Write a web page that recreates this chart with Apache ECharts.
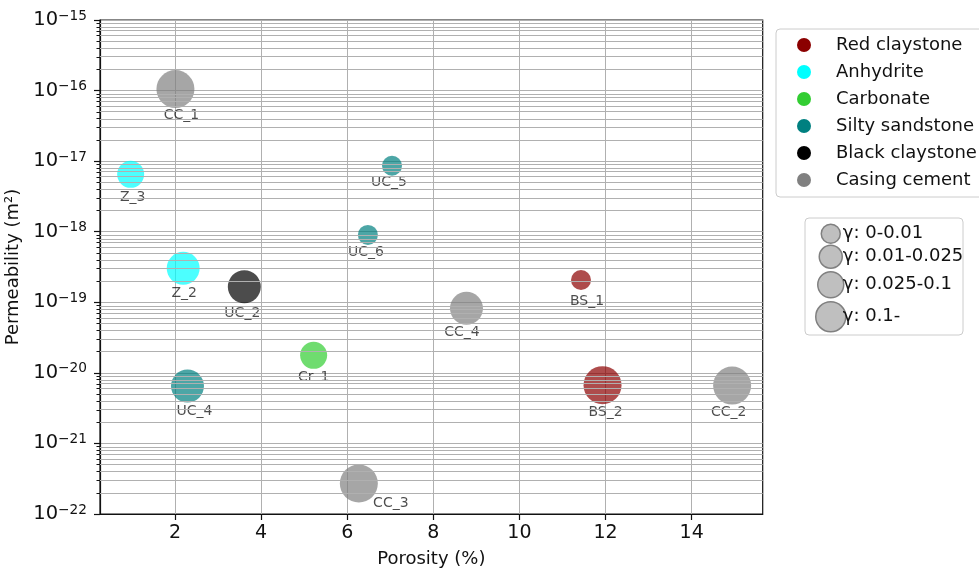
<!DOCTYPE html>
<html>
<head>
<meta charset="utf-8">
<script src="https://cdn.jsdelivr.net/npm/echarts@6/dist/echarts.min.js"></script>
<style>
html, body { margin: 0; padding: 0; background: #fff; }
#chart { width: 979px; height: 569px; }
</style>
</head>
<body>
<div id="chart"></div>
<script>
// Rock types and their colours
const rockTypes = ['Red claystone', 'Anhydrite', 'Carbonate', 'Silty sandstone', 'Black claystone', 'Casing cement'];
const rockColors = ['#8b0000', '#00ffff', '#32cd32', '#008080', '#000000', '#808080'];

// Samples: porosity (%), permeability (m²), gamma class
const sampleNames = ['BS_1', 'BS_2', 'Z_2', 'Z_3', 'Cr_1', 'UC_4', 'UC_5', 'UC_6', 'UC_2', 'CC_1', 'CC_2', 'CC_3', 'CC_4'];
const sampleRock = [0, 0, 1, 1, 2, 3, 3, 3, 4, 5, 5, 5, 5];
const porosity = [11.43, 11.93, 2.19, 0.97, 5.22, 2.29, 7.04, 6.48, 3.61, 2.01, 14.94, 6.27, 8.77];
const permeability = [2.07e-19, 6.7e-21, 3.03e-19, 6.5e-18, 1.77e-20, 6.5e-21, 8.6e-18, 9.0e-19, 1.66e-19, 1.05e-16, 6.6e-21, 2.7e-22, 8.2e-20];
const gammaClass = [0, 3, 2, 1, 1, 2, 0, 0, 2, 3, 3, 3, 2];
const gammaLabels = ['γ: 0-0.01', 'γ: 0.01-0.025', 'γ: 0.025-0.1', 'γ: 0.1-'];

// Axis ranges and ticks (y decades are powers of ten)
const yDecades = [-22, -21, -20, -19, -18, -17, -16, -15];
const xTicks = [2, 4, 6, 8, 10, 12, 14];
const xRange = [0.258, 15.65];

// Layout / style settings
const FONT = 'DejaVu Sans';
const bubbleSizes = [20, 27, 33, 38];
const keySizes = [19, 23, 26, 30];
const keyRowCenters = [233, 256, 284, 316];
const labelOffsets = [[6, 21], [3, 27.5], [1, 25], [2, 23.5], [0, 22.5], [7, 25.5], [-3, 16.5], [-2, 17.5], [-2, 27], [6, 26.5], [-3.5, 26.5], [32, 19.5], [-4.5, 23.5]];

// The y axis is drawn in log10 space
const log10 = v => Math.log10(v);

// Minor ticks / grid at 2..9 x 10^n inside each decade
const minorValues = [];
for (let i = 0; i < yDecades.length - 1; i++) {
  for (let m = 2; m <= 9; m++) minorValues.push(yDecades[i] + log10(m));
}

const rockSeries = rockTypes.map((name, r) => ({
  type: 'scatter',
  name: name,
  z: 3,
  itemStyle: { color: rockColors[r], opacity: 0.7 },
  emphasis: { disabled: true },
  label: { show: true, position: 'inside', formatter: '{b}', fontSize: 14, fontFamily: FONT, color: '#000' },
  data: sampleNames.map((s, i) => i).filter(i => sampleRock[i] === r).map(i => ({
    name: sampleNames[i],
    value: [porosity[i], log10(permeability[i])],
    symbolSize: bubbleSizes[gammaClass[i]],
    label: { offset: labelOffsets[i] }
  }))
}));

const gammaSeries = gammaLabels.map(name => ({
  type: 'scatter',
  name: name,
  data: [],
  itemStyle: { color: '#bfbfbf', borderColor: '#808080', borderWidth: 1.5 }
}));

const gridSeries = {
  type: 'scatter',
  data: [],
  z: 1,
  silent: true,
  markLine: {
    silent: true,
    symbol: 'none',
    animation: false,
    label: { show: false },
    emphasis: { disabled: true },
    lineStyle: { color: '#b0b0b0', width: 1, type: 'solid' },
    data: minorValues.map(v => ({ yAxis: v }))
  }
};

const gammaLegends = gammaLabels.map((name, k) => ({
  data: [name],
  left: 830 - keySizes[k] / 2,
  top: keyRowCenters[k] - keySizes[k] / 2,
  padding: 0,
  itemWidth: keySizes[k],
  itemHeight: keySizes[k],
  selectedMode: false,
  icon: 'circle',
  itemStyle: { color: '#bfbfbf', borderColor: '#808080', borderWidth: 1.5, opacity: 1 },
  textStyle: { fontSize: 18, fontFamily: FONT, color: '#111', padding: [0, 0, 0, -(keySizes[k] / 2 - 7)] }
}));

const axisLineStyle = { color: '#111', width: 1.2 };

const option = {
  animation: false,
  backgroundColor: '#fff',
  grid: {
    left: 100, top: 20, right: 979 - 762.7, bottom: 569 - 514,
    outerBoundsMode: 'none',
    containLabel: false,
    show: true, borderColor: '#111', borderWidth: 1.2, backgroundColor: 'transparent'
  },
  xAxis: {
    type: 'value',
    min: xRange[0],
    max: xRange[1],
    splitNumber: 7,
    axisLine: { show: true, onZero: false, lineStyle: axisLineStyle },
    axisTick: { show: true, length: 6, customValues: xTicks, lineStyle: axisLineStyle },
    axisLabel: { customValues: xTicks, margin: 10, fontSize: 19, fontFamily: FONT, color: '#111' },
    splitLine: { show: true, lineStyle: { color: '#b0b0b0', width: 1 } },
    name: 'Porosity (%)',
    nameLocation: 'middle',
    nameGap: 36,
    nameTextStyle: { fontSize: 18, fontFamily: FONT, color: '#111' }
  },
  yAxis: [{
    type: 'value',
    min: yDecades[0],
    max: yDecades[yDecades.length - 1],
    interval: 1,
    axisLine: { show: true, onZero: false, lineStyle: axisLineStyle },
    axisTick: { show: true, length: 6, lineStyle: axisLineStyle },
    axisLabel: {
      margin: 13,
      formatter: v => '{b|10}{s|−' + (-Math.round(v)) + '}',
      rich: {
        b: { fontSize: 19.5, fontFamily: FONT, color: '#111', lineHeight: 22 },
        s: { fontSize: 13.7, fontFamily: FONT, color: '#111', lineHeight: 14, verticalAlign: 'top' }
      }
    },
    splitLine: { show: true, lineStyle: { color: '#b0b0b0', width: 1 } },
    name: 'Permeability (m²)',
    nameLocation: 'middle',
    nameGap: 71,
    nameTextStyle: { fontSize: 18, fontFamily: FONT, color: '#111' }
  }, {
    // minor ticks of the log scale
    type: 'value',
    position: 'left',
    min: yDecades[0],
    max: yDecades[yDecades.length - 1],
    interval: 1,
    axisLine: { show: false },
    axisTick: { show: true, length: 3.5, customValues: minorValues, lineStyle: { color: '#111', width: 1 } },
    axisLabel: { show: false },
    splitLine: { show: false }
  }],
  legend: [{
    data: rockTypes,
    orient: 'vertical',
    left: 776,
    top: 29,
    padding: [7, 10, 8, 21],
    itemGap: 9,
    itemWidth: 14,
    itemHeight: 14,
    icon: 'circle',
    selectedMode: false,
    borderColor: '#cccccc',
    borderWidth: 1,
    borderRadius: 4,
    backgroundColor: '#fff',
    itemStyle: { opacity: 1 },
    textStyle: { fontSize: 18, fontFamily: FONT, color: '#111', padding: [0, 0, 0, 20] }
  }].concat(gammaLegends),
  graphic: [{
    type: 'rect',
    z: 0,
    shape: { x: 805, y: 218, width: 158, height: 117, r: 4 },
    style: { fill: '#fff', stroke: '#cccccc', lineWidth: 1 }
  }],
  series: rockSeries.concat(gammaSeries, [gridSeries])
};

const chart = echarts.init(document.getElementById('chart'), null, { renderer: 'canvas' });
chart.setOption(option);
</script>
</body>
</html>
